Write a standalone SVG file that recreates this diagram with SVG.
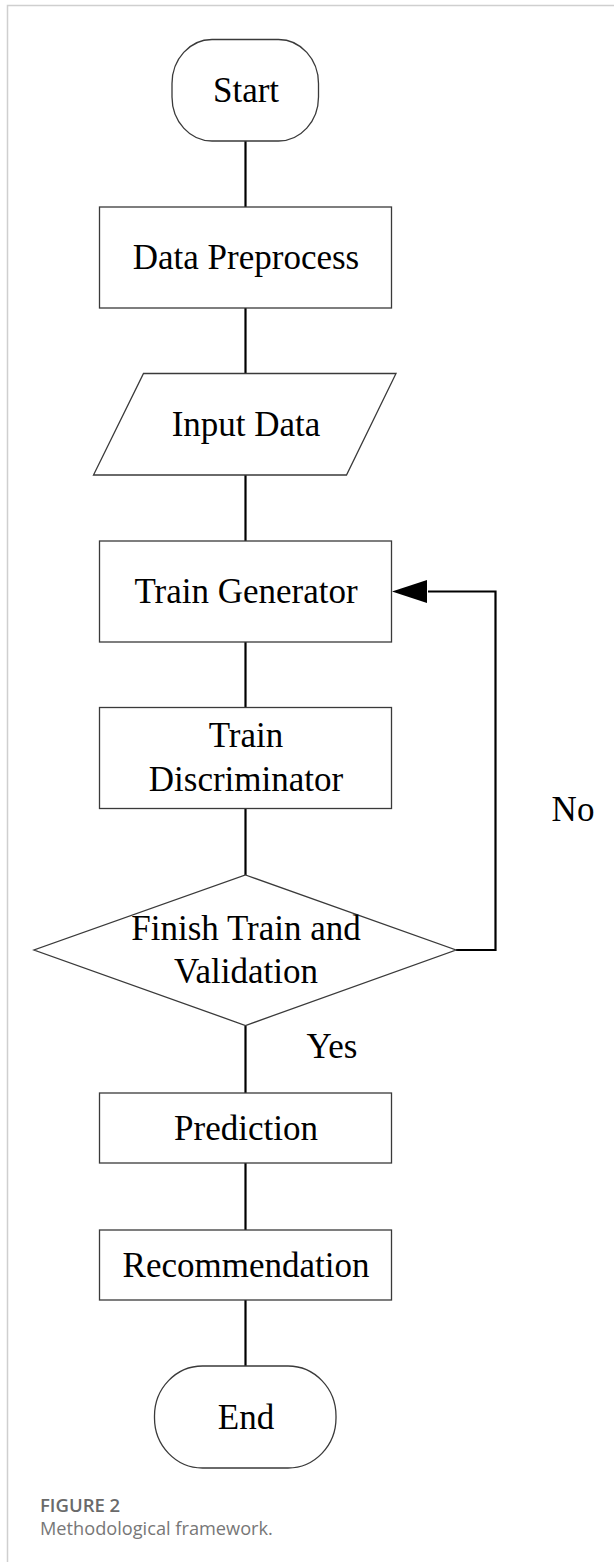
<svg xmlns="http://www.w3.org/2000/svg" width="614" height="1562" viewBox="0 0 614 1562">
<style>
.shape{fill:#fff;stroke:#3a3a3a;stroke-width:1.3}
.lbl{font-family:"Liberation Serif","Times New Roman",serif;font-size:35px;fill:#000;text-anchor:middle}
.conn{stroke:#000;stroke-width:2.2;fill:none}
.frame{stroke:#cfcfcf;stroke-width:1.5;fill:none}
.cap1{font-family:"Open Sans","Noto Sans",sans-serif;font-size:18.5px;font-weight:600;fill:#6a6a6a}
.cap2{font-family:"Open Sans","Noto Sans",sans-serif;font-size:18.2px;fill:#777}
</style>
<rect width="614" height="1562" fill="#fff"/>
<path class="frame" d="M7.5,1562 V5.5 H614"/>
<g id="connectors">
<line class="conn" x1="245.5" y1="141" x2="245.5" y2="207"/>
<line class="conn" x1="245.5" y1="308" x2="245.5" y2="373"/>
<line class="conn" x1="245.5" y1="475" x2="245.5" y2="541"/>
<line class="conn" x1="245.5" y1="642" x2="245.5" y2="707"/>
<line class="conn" x1="245.5" y1="808" x2="245.5" y2="875"/>
<line class="conn" x1="245.5" y1="1026" x2="245.5" y2="1093"/>
<line class="conn" x1="245.5" y1="1163" x2="245.5" y2="1230"/>
<line class="conn" x1="245.5" y1="1300" x2="245.5" y2="1366"/>
<path class="conn" d="M456,950 H495.5 V591.5 H428"/>
<path d="M392,591.5 L427,580 L427,603 Z" fill="#000"/>
<text class="lbl" x="573" y="821">No</text>
<text class="lbl" x="332" y="1058">Yes</text>
</g>
<g id="start">
<rect class="shape" x="172" y="39.5" width="146.5" height="101.5" rx="40" ry="44"/>
<text class="lbl" x="246" y="102">Start</text>
</g>
<g id="preprocess">
<rect class="shape" x="99.5" y="207" width="292" height="101"/>
<text class="lbl" x="246" y="269">Data Preprocess</text>
</g>
<g id="input">
<polygon class="shape" points="143.5,373.5 396,373.5 346.5,475 93.5,475"/>
<text class="lbl" x="246" y="436">Input Data</text>
</g>
<g id="generator">
<rect class="shape" x="99.5" y="541" width="292" height="101"/>
<text class="lbl" x="246" y="603">Train Generator</text>
</g>
<g id="discriminator">
<rect class="shape" x="99.5" y="707.5" width="292" height="101"/>
<text class="lbl" x="246" y="747">Train</text>
<text class="lbl" x="246" y="791">Discriminator</text>
</g>
<g id="decision">
<polygon class="shape" points="245.5,875 456,950 245.5,1025.5 34,950"/>
<text class="lbl" x="246" y="940">Finish Train and</text>
<text class="lbl" x="246" y="983">Validation</text>
</g>
<g id="prediction">
<rect class="shape" x="99.5" y="1093" width="292" height="70"/>
<text class="lbl" x="246" y="1140">Prediction</text>
</g>
<g id="recommendation">
<rect class="shape" x="99.5" y="1230" width="292" height="70"/>
<text class="lbl" x="246" y="1277">Recommendation</text>
</g>
<g id="end">
<rect class="shape" x="154.5" y="1366" width="181.5" height="102" rx="48" ry="50"/>
<text class="lbl" x="246" y="1429">End</text>
</g>
<g id="caption">
<text class="cap1" x="40" y="1512">FIGURE 2</text>
<text class="cap2" x="40" y="1535">Methodological framework.</text>
</g>
</svg>
